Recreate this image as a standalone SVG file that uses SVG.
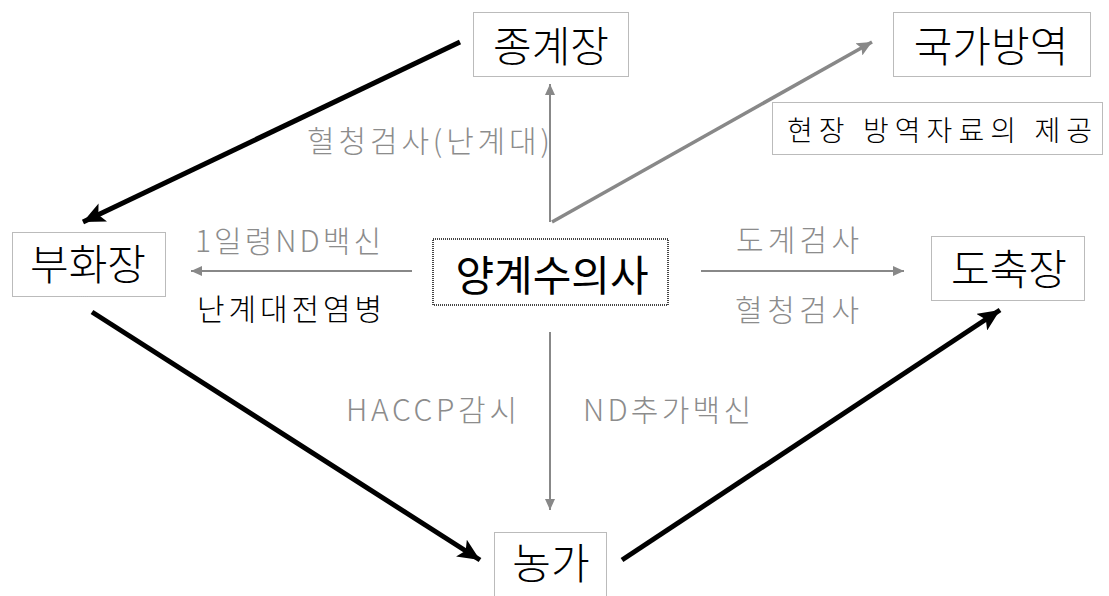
<svg xmlns="http://www.w3.org/2000/svg" width="1109" height="596" viewBox="0 0 1109 596">
<style>
.box{fill:#fff;stroke:#777;stroke-width:1;stroke-dasharray:1 1}
.mainbox{fill:#fff;stroke:#444;stroke-width:2;stroke-dasharray:1 1}
.node{font-family:"Noto Sans CJK KR","Noto Sans",sans-serif;font-size:42px;font-weight:300;fill:#000;text-anchor:middle}
.mainnode{font-weight:400}
.sub{font-family:"Noto Sans CJK KR","Noto Sans",sans-serif;font-size:28px;font-weight:300;fill:#000}
.lbl{font-family:"Noto Sans CJK KR","Noto Sans",sans-serif;font-size:30px;font-weight:300;fill:#8c8c8c}
.lblk{font-family:"Noto Sans CJK KR","Noto Sans",sans-serif;font-size:30px;font-weight:300;fill:#000}
.thick{stroke:#000;stroke-width:5;fill:none;marker-end:url(#hb)}
.thin{stroke:#888;stroke-width:2;fill:none;marker-end:url(#hg)}
.diag{stroke:#888;stroke-width:3.5;fill:none;marker-end:url(#hg2)}
</style>
<defs>
<marker id="hb" markerUnits="userSpaceOnUse" markerWidth="24" markerHeight="20" refX="22" refY="10" orient="auto"><path d="M0,0 L22,10 L0,20 L5,10 Z" fill="#000"/></marker>
<marker id="hg" markerUnits="userSpaceOnUse" markerWidth="12" markerHeight="10" refX="11" refY="5" orient="auto"><path d="M0,0 L11,5 L0,10 Z" fill="#888"/></marker>
<marker id="hg2" markerUnits="userSpaceOnUse" markerWidth="16" markerHeight="14" refX="15" refY="7" orient="auto"><path d="M0,0 L15,7 L0,14 L3,7 Z" fill="#888"/></marker>
</defs>
<g id="connectors">
<line class="thick" x1="460" y1="42" x2="83" y2="222"/>
<line class="thick" x1="92" y1="312" x2="480" y2="560"/>
<line class="thick" x1="622" y1="560" x2="1000" y2="310"/>
<line class="thin" x1="550" y1="222" x2="550" y2="84"/>
<line class="diag" x1="552" y1="222" x2="872" y2="42"/>
<line class="thin" x1="412" y1="271" x2="191" y2="271"/>
<line class="thin" x1="701" y1="271" x2="904" y2="271"/>
<line class="thin" x1="550" y1="332" x2="550" y2="510"/>
</g>
<g id="labels">
<text class="lbl" x="307" y="152" textLength="243">혈청검사(난계대)</text>
<text class="lbl" x="195" y="252" textLength="186">1일령ND백신</text>
<text class="lblk" x="197" y="320" textLength="185">난계대전염병</text>
<text class="lbl" x="736" y="251" textLength="123">도계검사</text>
<text class="lbl" x="735" y="321" textLength="124">혈청검사</text>
<text class="lbl" x="346" y="421" textLength="171">HACCP감시</text>
<text class="lbl" x="583" y="421" textLength="168">ND추가백신</text>
</g>
<g id="jonggyejang"><rect class="box" x="473.5" y="12.5" width="155" height="64"/><text class="node" x="551" y="62">종계장</text></g>
<g id="gukgabangyeok"><rect class="box" x="893.5" y="12.5" width="197" height="64"/><text class="node" x="991" y="62">국가방역</text></g>
<g id="hyeonjang"><rect class="box" x="772.5" y="102.5" width="330" height="52"/><text class="sub" x="787" y="141" textLength="305">현장 방역자료의 제공</text></g>
<g id="buhwajang"><rect class="box" x="12.5" y="232.5" width="153" height="64"/><text class="node" x="88" y="280">부화장</text></g>
<g id="yanggyesuuisa"><rect class="mainbox" x="433" y="239" width="235" height="66"/><text class="node mainnode" x="552" y="291">양계수의사</text></g>
<g id="dochukjang"><rect class="box" x="931.5" y="236.5" width="153" height="64"/><text class="node" x="1009" y="285">도축장</text></g>
<g id="nongga"><rect class="box" x="494.5" y="532.5" width="112" height="70"/><text class="node" x="551" y="579">농가</text></g>
</svg>
